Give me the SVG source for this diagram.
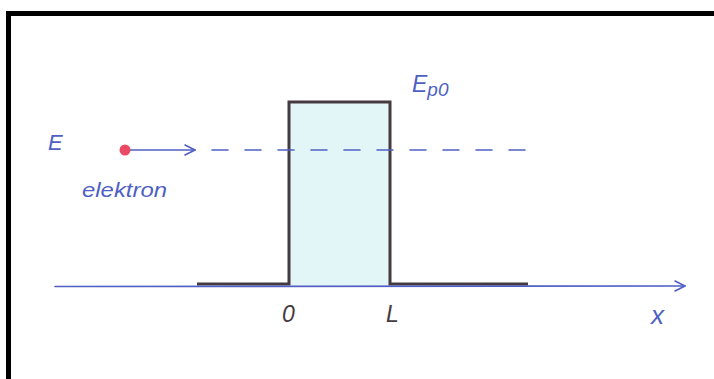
<svg xmlns="http://www.w3.org/2000/svg" width="714" height="379" viewBox="0 0 714 379">
<style>
.pen{stroke:#4f5fc4;stroke-width:1.6;fill:none;stroke-linecap:round;stroke-linejoin:round}
.ink{stroke:#453a3f;stroke-width:3;fill:none;stroke-linejoin:miter}
.lbl{font-family:"Liberation Sans",Arial,sans-serif;font-style:italic;fill:#4f5fc4}
.dark{font-family:"Liberation Sans",Arial,sans-serif;font-style:italic;fill:#453a3f}
</style>
<defs>
<marker id="chev" viewBox="0 0 12 12" refX="11" refY="6" markerWidth="12" markerHeight="12" markerUnits="userSpaceOnUse" orient="auto">
<path d="M1,1 L11,6 L1,11" fill="none" stroke="#4f5fc4" stroke-width="1.6" stroke-linecap="round" stroke-linejoin="round"/>
</marker>
</defs>
<rect width="714" height="379" fill="#ffffff"/>
<g id="frame">
<rect x="6" y="11" width="708" height="5" fill="#000"/>
<rect x="6" y="11" width="5" height="368" fill="#000"/>
</g>
<g id="barrier">
<rect x="289" y="102" width="100" height="183" fill="#e2f6f8"/>
<path class="ink" d="M197,284 L289,284 L289,102 L390,102 L390,284 L528,284"/>
</g>
<g id="connectors">
<line class="pen" x1="55" y1="286.5" x2="685" y2="286" marker-end="url(#chev)"/>
<line class="pen" x1="130" y1="150" x2="195" y2="150" marker-end="url(#chev)"/>
<line class="pen" x1="212" y1="150" x2="528" y2="150" stroke-dasharray="16 17"/>
</g>
<g id="electron">
<circle cx="125" cy="150" r="5.5" fill="#ea4a64"/>
<text class="lbl" x="82" y="197" font-size="20" textLength="85" lengthAdjust="spacingAndGlyphs">elektron</text>
</g>
<g id="labels">
<text class="lbl" x="48" y="150" font-size="22">E</text>
<text class="lbl" x="412" y="92" font-size="23">E<tspan font-size="19" dy="4">p0</tspan></text>
<text class="dark" x="282" y="322" font-size="23">0</text>
<text class="dark" x="386" y="322" font-size="23">L</text>
<text class="lbl" x="651" y="324" font-size="26">x</text>
</g>
</svg>
